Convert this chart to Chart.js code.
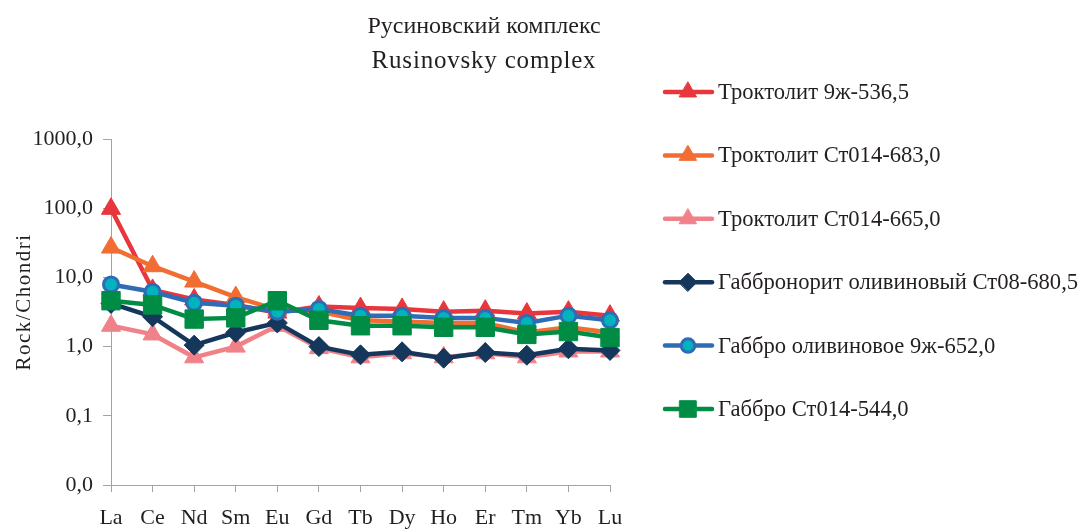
<!DOCTYPE html>
<html>
<head>
<meta charset="utf-8">
<script src="https://cdn.jsdelivr.net/npm/chart.js@4"></script>
<style>
  html, body { margin: 0; padding: 0; background: #fff; }
</style>
</head>
<body>
<canvas id="reeChart" width="1080" height="529"></canvas>
<script>
// REE, chondrite-normalised
const elements = ['La', 'Ce', 'Nd', 'Sm', 'Eu', 'Gd', 'Tb', 'Dy', 'Ho', 'Er', 'Tm', 'Yb', 'Lu'];

const troctolite9zh536 = [98, 6.6, 4.8, 4.0, 3.1, 3.8, 3.6, 3.5, 3.2, 3.3, 3.0, 3.2, 2.8];
const troctoliteSt014683 = [27, 14.5, 8.7, 5.2, 3.4, 3.2, 2.4, 2.3, 2.2, 2.2, 1.6, 1.9, 1.6];
const troctoliteSt014665 = [2.0, 1.5, 0.7, 1.0, 2.0, 0.95, 0.7, 0.8, 0.7, 0.8, 0.7, 0.85, 0.85];
const gabbronoriteSt08680 = [4.2, 2.7, 1.05, 1.6, 2.2, 1.0, 0.76, 0.84, 0.68, 0.82, 0.75, 0.93, 0.88];
const gabbroOl9zh652 = [7.9, 6.2, 4.3, 3.9, 3.2, 3.5, 2.8, 2.8, 2.6, 2.6, 2.2, 2.8, 2.4];
const gabbroSt014544 = [4.6, 4.0, 2.5, 2.6, 4.6, 2.4, 2.0, 2.0, 1.9, 1.9, 1.5, 1.65, 1.35];

const seriesNames = [
    'Троктолит 9ж-536,5',
    'Троктолит Ст014-683,0',
    'Троктолит Ст014-665,0',
    'Габбронорит оливиновый Ст08-680,5',
    'Габбро оливиновое 9ж-652,0',
    'Габбро Ст014-544,0'
];

const yTicks = [0.01, 0.1, 1, 10, 100, 1000];
const titleLines = ['Русиновский комплекс', 'Rusinovsky complex'];
const yTitle = 'Rock/Chondri';

const serif = '"Liberation Serif", "Times New Roman", serif';
const textColor = '#231f20';
const axisColor = '#a3a3a3';

function series(label, data, line, fill, style, radius, order) {
    return {
        label: label,
        data: data,
        borderColor: line,
        borderWidth: 4.5,
        pointStyle: style,
        pointRadius: radius,
        pointHoverRadius: radius,
        pointBackgroundColor: fill,
        pointBorderColor: line,
        pointBorderWidth: style === 'circle' ? 3 : 1,
        tension: 0,
        clip: false,
        order: order
    };
}

// title, y title and the excel-style legend (line with marker in the middle)
const titleAndLegend = {
    id: 'titleAndLegend',
    afterDraw(chart) {
        const ctx = chart.ctx;
        ctx.save();
        ctx.fillStyle = textColor;
        ctx.textAlign = 'center';
        ctx.textBaseline = 'middle';
        ctx.font = '24px ' + serif;
        ctx.fillText(titleLines[0], 484, 27);
        ctx.font = '25px ' + serif;
        ctx.letterSpacing = '0.8px';
        ctx.fillText(titleLines[1], 484, 61);

        ctx.save();
        ctx.translate(24, 302);
        ctx.rotate(-Math.PI / 2);
        ctx.font = '21px ' + serif;
        ctx.letterSpacing = '1.5px';
        ctx.fillText(yTitle, 0, 0);
        ctx.restore();
        ctx.letterSpacing = '0px';

        chart.data.datasets.forEach((ds, i) => {
            const y = 92 + i * 63.4;
            ctx.strokeStyle = ds.borderColor;
            ctx.lineWidth = ds.borderWidth;
            ctx.lineCap = 'round';
            ctx.beginPath();
            ctx.moveTo(665, y);
            ctx.lineTo(712, y);
            ctx.stroke();

            ctx.fillStyle = ds.pointBackgroundColor;
            ctx.strokeStyle = ds.pointBorderColor;
            ctx.lineWidth = ds.pointBorderWidth;
            Chart.helpers.drawPoint(ctx, {
                pointStyle: ds.pointStyle,
                radius: ds.pointRadius * 0.9,
                rotation: 0,
                borderWidth: ds.pointBorderWidth
            }, 688, y);

            ctx.fillStyle = textColor;
            ctx.font = '22.6px ' + serif;
            ctx.textAlign = 'left';
            ctx.fillText(ds.label, 718, y + 1);
        });
        ctx.restore();
    }
};

const ctx = document.getElementById('reeChart').getContext('2d');
new Chart(ctx, {
    type: 'line',
    data: {
        labels: elements,
        datasets: [
            series(seriesNames[0], troctolite9zh536, '#e8363c', '#e8363c', 'triangle', 11, 6),
            series(seriesNames[1], troctoliteSt014683, '#f26d31', '#f26d31', 'triangle', 11, 5),
            series(seriesNames[2], troctoliteSt014665, '#f08189', '#f08189', 'triangle', 11, 4),
            series(seriesNames[3], gabbronoriteSt08680, '#15375c', '#15375c', 'rectRot', 10, 3),
            series(seriesNames[4], gabbroOl9zh652, '#2e6db5', '#00b3bc', 'circle', 7.5, 2),
            series(seriesNames[5], gabbroSt014544, '#008c44', '#008c44', 'rect', 13, 1)
        ]
    },
    options: {
        responsive: false,
        animation: false,
        events: [],
        layout: { padding: { top: 139, right: 470, bottom: 0, left: 3 } },
        plugins: {
            legend: { display: false },
            title: { display: false },
            tooltip: { enabled: false }
        },
        scales: {
            x: {
                type: 'category',
                offset: false,
                afterFit(scale) { scale.height = 44; },
                grid: {
                    offset: false,
                    drawOnChartArea: false,
                    tickLength: 7,
                    color: axisColor
                },
                border: { color: axisColor, width: 1 },
                ticks: {
                    autoSkip: false,
                    maxRotation: 0,
                    padding: 13,
                    color: textColor,
                    font: { family: serif, size: 22 }
                }
            },
            y: {
                type: 'logarithmic',
                min: 0.01,
                max: 1000,
                afterFit(scale) { scale.width = 108; },
                afterBuildTicks(scale) {
                    scale.ticks = yTicks.map(v => ({ value: v }));
                },
                grid: {
                    drawOnChartArea: false,
                    tickLength: 8,
                    color: axisColor
                },
                border: { color: axisColor, width: 1 },
                ticks: {
                    padding: 10,
                    color: textColor,
                    font: { family: serif, size: 22 },
                    callback: v => Number(v).toFixed(1).replace('.', ',')
                }
            }
        }
    },
    plugins: [titleAndLegend]
});
</script>
</body>
</html>
